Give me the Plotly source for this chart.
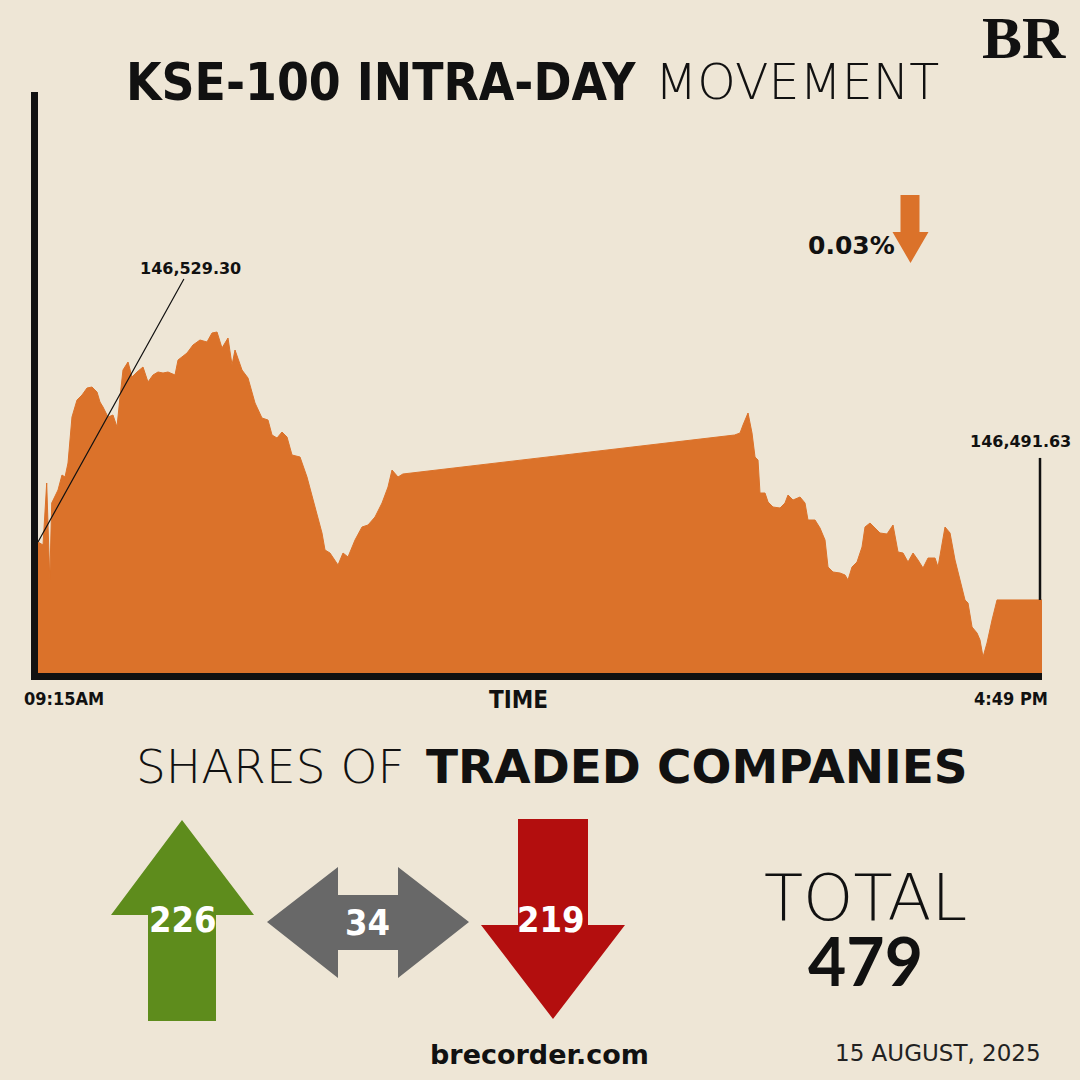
import plotly.graph_objects as go

# ---------------- data ----------------
DAY = "2025-08-15 "
times = [
    "09:15:00", "09:17:16", "09:18:56", "09:20:20", "09:21:12", "09:24:03", "09:25:51", "09:27:13",
    "09:28:34", "09:30:22", "09:32:38", "09:34:54", "09:37:10", "09:39:25", "09:41:41", "09:43:02",
    "09:44:24", "09:46:39", "09:48:55", "09:50:43", "09:52:05", "09:53:26", "09:55:42", "09:57:30",
    "09:59:46", "10:02:29", "10:04:44", "10:07:00", "10:09:16", "10:11:32", "10:13:47", "10:16:57",
    "10:18:19", "10:22:23", "10:25:05", "10:28:15", "10:31:25", "10:33:41", "10:35:57", "10:38:12",
    "10:40:55", "10:42:44", "10:44:05", "10:47:15", "10:49:58", "10:53:08", "10:56:17", "10:59:00",
    "11:00:49", "11:03:05", "11:05:20", "11:07:36", "11:09:52", "11:13:29", "11:16:38", "11:20:16",
    "11:23:25", "11:24:47", "11:27:02", "11:30:40", "11:32:55", "11:35:11", "11:38:21", "11:41:31",
    "11:44:14", "11:47:23", "11:50:34", "11:53:16", "11:55:05", "11:57:47", "12:00:00", "14:30:00",
    "14:32:27", "14:33:48", "14:36:04", "14:37:52", "14:39:14", "14:40:35", "14:41:29", "14:43:45",
    "14:45:07", "14:47:22", "14:50:32", "14:52:47", "14:54:09", "14:56:25", "14:59:35", "15:01:50",
    "15:03:11", "15:06:22", "15:08:37", "15:10:53", "15:12:14", "15:14:30", "15:17:40", "15:19:56",
    "15:21:17", "15:23:05", "15:25:21", "15:27:37", "15:28:58", "15:31:14", "15:33:29", "15:35:45",
    "15:38:55", "15:41:38", "15:43:53", "15:46:09", "15:48:25", "15:50:41", "15:52:56", "15:55:12",
    "15:57:28", "16:00:38", "16:01:59", "16:03:47", "16:05:09", "16:07:25", "16:09:40", "16:11:56",
    "16:14:11", "16:15:33", "16:17:22", "16:19:37", "16:20:58", "16:22:20", "16:24:08", "16:26:24",
    "16:28:40", "16:49:00",
]
values = [
    146529.30, 146527.35, 146567.65, 146504.60, 146554.65, 146563.10, 146572.85, 146571.55,
    146580.65, 146610.55, 146621.60, 146624.85, 146629.40, 146630.05, 146626.80, 146620.30,
    146617.05, 146610.55, 146611.85, 146604.05, 146623.55, 146641.10, 146646.30, 146636.55,
    146639.80, 146643.05, 146633.30, 146637.85, 146639.80, 146639.15, 146639.80, 146637.85,
    146647.60, 146652.15, 146657.35, 146660.60, 146659.30, 146665.15, 146665.80, 146655.40,
    146661.90, 146644.35, 146654.10, 146641.10, 146635.90, 146619.65, 146609.90, 146608.60,
    146598.85, 146596.90, 146600.80, 146597.55, 146585.85, 146584.55, 146571.55, 146552.05,
    146535.15, 146524.10, 146522.15, 146514.35, 146522.15, 146519.55, 146530.60, 146539.05,
    146540.35, 146545.55, 146554.65, 146565.05, 146576.10, 146571.55, 146573.50, 146598.85,
    146600.15, 146605.35, 146613.15, 146600.15, 146584.55, 146582.60, 146561.15, 146561.15,
    146555.30, 146552.05, 146551.40, 146554.65, 146559.85, 146556.60, 146558.55, 146554.65,
    146543.60, 146543.60, 146538.40, 146530.60, 146513.05, 146509.80, 146509.15, 146507.85,
    146504.60, 146513.05, 146516.30, 146526.05, 146539.05, 146541.65, 146538.40, 146535.15,
    146534.50, 146540.35, 146522.80, 146522.15, 146516.30, 146522.15, 146517.60, 146512.40,
    146518.90, 146518.90, 146513.05, 146527.35, 146539.05, 146535.15, 146517.60, 146504.60,
    146491.60, 146489.65, 146474.05, 146470.15, 146465.60, 146454.55, 146463.65, 146478.60,
    146491.63, 146491.63,
]
open_value = 146529.30
close_value = 146491.63
start_label = "09:15AM"
end_label = "4:49 PM"
advancers = 226
unchanged = 34
decliners = 219
date_label = "15 AUGUST, 2025"

# ---------------- styling ----------------
W = H = 1080
BG = "#EEE6D6"
ORANGE = "#DB722A"
GREEN = "#5E8C1C"
GREY = "#686868"
RED = "#B30E0E"
BLACK = "#111111"
COND = "DejaVu Sans Condensed"
SANS = "DejaVu Sans"


def px(x):
    return x / W


def py(y):
    return 1 - y / H


def path(points):
    return "M " + " L ".join(f"{px(x):.5f},{py(y):.5f}" for x, y in points) + " Z"


annotations = []
shapes = []


def label(x, y, text, family, size, color=BLACK, anchor="center", weight=None):
    font = dict(family=family, size=size, color=color)
    if weight is not None:
        font["weight"] = weight
    annotations.append(dict(
        x=px(x), y=py(y), xref="paper", yref="paper",
        xanchor=anchor, yanchor="middle",
        text=text, showarrow=False, font=font,
    ))


x_full = [DAY + t for t in times]
change_pct = abs(close_value - open_value) / open_value * 100

fig = go.Figure()
fig.add_trace(go.Scatter(
    x=x_full, y=values, mode="lines",
    line=dict(color=ORANGE, width=1, shape="linear"),
    fill="tozeroy", fillcolor=ORANGE, hoverinfo="skip", showlegend=False,
))

# label line for close value (vertical)
shapes.append(dict(
    type="line", xref="x", yref="y",
    xsizemode="pixel", xanchor=x_full[-1], x0=-2, x1=-2,
    ysizemode="pixel", yanchor=close_value, y0=0, y1=142,
    line=dict(color=BLACK, width=2.5),
))

# open value annotation with diagonal leader
annotations.append(dict(
    x=x_full[0], y=open_value, xref="x", yref="y",
    text=f"<b>{open_value:,.2f}</b>", showarrow=True, arrowhead=0,
    arrowwidth=1.2, arrowcolor=BLACK, ax=152, ay=-274, standoff=0,
    font=dict(family=SANS, size=16, color=BLACK),
))
label(1020, 441, f"<b>{close_value:,.2f}</b>", SANS, 16)

# change indicator
label(851, 246, f"<b>{change_pct:.2f}%</b>", SANS, 25)
shapes.append(dict(
    type="path", xref="paper", yref="paper", layer="above",
    path=path([(900.5, 195), (919.5, 195), (919.5, 232), (928.5, 232), (910.5, 263),
               (892.5, 232), (900.5, 232)]),
    fillcolor=ORANGE, line=dict(width=0),
))

# title and logo
label(638, 82, "<b>KSE-100 INTRA-DAY</b>", COND, 51, anchor="right")
label(653, 82, "MOVEMENT", SANS, 49, anchor="left", weight=200)
label(1024, 38, "<b>BR</b>", "Liberation Serif", 60)

# axis labels
label(64, 698, f"<b>{start_label}</b>", COND, 18)
label(518, 700, "<b>TIME</b>", COND, 24)
label(1011, 698, f"<b>{end_label}</b>", COND, 18)

# section heading
label(406, 766, "SHARES OF", SANS, 47, anchor="right", weight=200)
label(424, 766, "<b>TRADED COMPANIES</b>", SANS, 47, anchor="left")

# arrows
shapes.append(dict(
    type="path", xref="paper", yref="paper",
    path=path([(182, 820), (254, 915), (216, 915), (216, 1021), (148, 1021), (148, 915), (111, 915)]),
    fillcolor=GREEN, line=dict(width=0),
))
shapes.append(dict(
    type="path", xref="paper", yref="paper",
    path=path([(267, 922), (338, 867), (338, 895), (398, 895), (398, 867), (469, 922),
               (398, 978), (398, 950), (338, 950), (338, 978)]),
    fillcolor=GREY, line=dict(width=0),
))
shapes.append(dict(
    type="path", xref="paper", yref="paper",
    path=path([(518, 819), (588, 819), (588, 925), (625, 925), (553, 1019), (481, 925), (518, 925)]),
    fillcolor=RED, line=dict(width=0),
))
for xc, yc, val in [(183, 919, advancers), (367, 922, unchanged), (551, 919, decliners)]:
    label(xc, yc, f"<b>{val}</b>", COND, 36, color="white")

# total (one text block, two lines)
total = advancers + unchanged + decliners
annotations.append(dict(
    x=px(865), y=py(930), xref="paper", yref="paper",
    xanchor="center", yanchor="middle", align="center", showarrow=False,
    text=(f"<span style='font-size:64px;font-weight:200'>TOTAL</span><br>"
          f"<span style='font-size:66px;font-family:Lato;font-weight:700'>{total}</span>"),
    font=dict(family=SANS, size=51, color=BLACK),
))

# footer
label(539, 1054, "<b>brecorder.com</b>", SANS, 27)
label(938, 1053, date_label, SANS, 23, color="#222222")

fig.update_layout(
    width=W, height=H,
    margin=dict(l=0, r=0, t=0, b=0, pad=0),
    paper_bgcolor=BG, plot_bgcolor=BG,
    showlegend=False,
    shapes=shapes,
    annotations=annotations,
    xaxis=dict(
        type="date", domain=[38 / W, 1042 / W],
        range=[DAY + "09:15:00", DAY + "16:49:00"],
        showline=True, linecolor=BLACK, linewidth=7,
        showgrid=False, zeroline=False, showticklabels=False, ticks="",
        fixedrange=True,
    ),
    yaxis=dict(
        domain=[1 - 673 / H, 1 - 92 / H],
        range=[146444.15, 146821.8],
        showline=True, linecolor=BLACK, linewidth=7,
        showgrid=False, zeroline=False, showticklabels=False, ticks="",
        fixedrange=True,
    ),
)

fig.write_html("out.html")
